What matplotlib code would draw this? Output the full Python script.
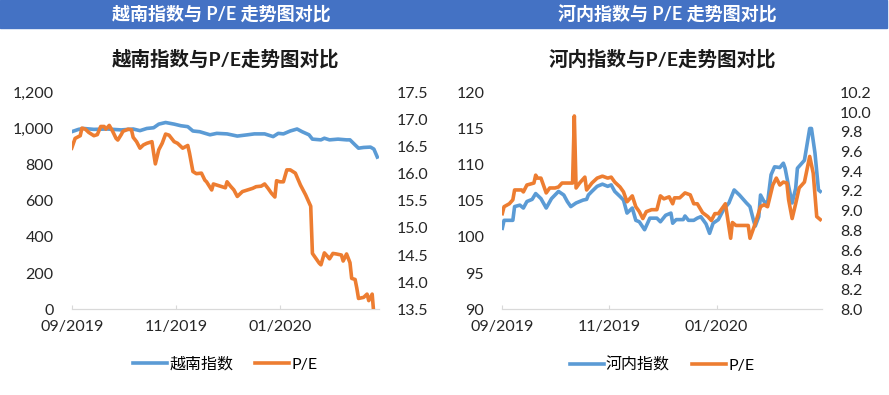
import matplotlib

matplotlib.use("Agg")
import matplotlib.pyplot as plt
import matplotlib.dates as mdates
import matplotlib.ticker as mticker
import pandas as pd

plt.rcParams["font.family"] = ["Lato", "Noto Sans CJK SC", "DejaVu Sans"]

# ---- 越南指数 (left panel) ----
vn_dates = ["2019-09-01", "2019-09-05", "2019-09-08", "2019-09-14", "2019-09-22", "2019-09-30",
            "2019-10-07", "2019-10-11", "2019-10-15", "2019-10-19", "2019-10-22", "2019-10-26",
            "2019-10-31", "2019-11-04", "2019-11-08", "2019-11-11", "2019-11-15", "2019-11-21",
            "2019-11-25", "2019-12-01", "2019-12-07", "2019-12-13", "2019-12-17", "2019-12-23",
            "2019-12-28", "2019-12-31", "2020-01-03", "2020-01-07", "2020-01-11", "2020-01-14",
            "2020-01-18", "2020-01-20", "2020-01-25", "2020-01-27", "2020-01-30", "2020-02-04",
            "2020-02-09", "2020-02-11", "2020-02-14", "2020-02-16", "2020-02-19", "2020-02-23",
            "2020-02-25", "2020-02-27"]
vn_index = [982, 995, 1000, 995, 997, 992,
            997, 988, 1000, 1004, 1024, 1033,
            1024, 1015, 1010, 986, 982, 965,
            973, 970, 958, 965, 970, 970,
            955, 973, 970, 986, 997, 982,
            965, 941, 937, 946, 937, 941,
            937, 937, 909, 891, 895, 897,
            886, 842]

vn_pe_dates = ["2019-09-01", "2019-09-03", "2019-09-06", "2019-09-07", "2019-09-09", "2019-09-11",
               "2019-09-14", "2019-09-16", "2019-09-18", "2019-09-20", "2019-09-21", "2019-09-23",
               "2019-09-25", "2019-09-27", "2019-09-28", "2019-09-30", "2019-10-01", "2019-10-04",
               "2019-10-06", "2019-10-07", "2019-10-09", "2019-10-11", "2019-10-13", "2019-10-15",
               "2019-10-18", "2019-10-19", "2019-10-20", "2019-10-22", "2019-10-24", "2019-10-26",
               "2019-10-28", "2019-10-31", "2019-11-02", "2019-11-05", "2019-11-08", "2019-11-09",
               "2019-11-11", "2019-11-13", "2019-11-16", "2019-11-18", "2019-11-19", "2019-11-22",
               "2019-11-23", "2019-11-25", "2019-11-28", "2019-11-30", "2019-12-01", "2019-12-03",
               "2019-12-05", "2019-12-07", "2019-12-10", "2019-12-13", "2019-12-16", "2019-12-18",
               "2019-12-21", "2019-12-23", "2019-12-25", "2019-12-27", "2019-12-29", "2019-12-30",
               "2020-01-01", "2020-01-03", "2020-01-05", "2020-01-07", "2020-01-10", "2020-01-13",
               "2020-01-16", "2020-01-19", "2020-01-20", "2020-01-22", "2020-01-24", "2020-01-25",
               "2020-01-27", "2020-01-29", "2020-01-30", "2020-02-01", "2020-02-03", "2020-02-06",
               "2020-02-07", "2020-02-09", "2020-02-11", "2020-02-12", "2020-02-14", "2020-02-15",
               "2020-02-16", "2020-02-19", "2020-02-21", "2020-02-22", "2020-02-24", "2020-02-25"]
vn_pe = [16.47, 16.65, 16.70, 16.84, 16.82, 16.76,
         16.70, 16.72, 16.87, 16.87, 16.82, 16.89,
         16.78, 16.65, 16.62, 16.72, 16.78, 16.82,
         16.81, 16.67, 16.59, 16.47, 16.53, 16.56,
         16.59, 16.38, 16.18, 16.44, 16.56, 16.73,
         16.71, 16.59, 16.56, 16.47, 16.52, 16.38,
         16.04, 16.00, 16.01, 15.88, 15.85, 15.70,
         15.81, 15.79, 15.76, 15.74, 15.85, 15.77,
         15.70, 15.58, 15.67, 15.70, 15.73, 15.76,
         15.77, 15.81, 15.73, 15.64, 15.57, 15.87,
         15.85, 15.85, 16.07, 16.07, 16.01, 15.79,
         15.61, 15.40, 14.53, 14.44, 14.35, 14.32,
         14.54, 14.47, 14.43, 14.53, 14.52, 14.50,
         14.39, 14.52, 14.36, 14.07, 14.05, 13.89,
         13.70, 13.72, 13.78, 13.66, 13.78, 13.40]

# ---- 河内指数 (right panel) ----
hn_dates = ["2019-09-01", "2019-09-02", "2019-09-07", "2019-09-08", "2019-09-11", "2019-09-13",
            "2019-09-15", "2019-09-18", "2019-09-20", "2019-09-23", "2019-09-26", "2019-09-29",
            "2019-10-03", "2019-10-06", "2019-10-08", "2019-10-10", "2019-10-13", "2019-10-15",
            "2019-10-17", "2019-10-19", "2019-10-20", "2019-10-22", "2019-10-25", "2019-10-28",
            "2019-10-31", "2019-11-02", "2019-11-04", "2019-11-07", "2019-11-09", "2019-11-11",
            "2019-11-14", "2019-11-16", "2019-11-18", "2019-11-21", "2019-11-24", "2019-11-28",
            "2019-11-30", "2019-12-03", "2019-12-06", "2019-12-07", "2019-12-09", "2019-12-13",
            "2019-12-14", "2019-12-16", "2019-12-19", "2019-12-21", "2019-12-23", "2019-12-26",
            "2019-12-28", "2019-12-30", "2020-01-02", "2020-01-05", "2020-01-08", "2020-01-11",
            "2020-01-14", "2020-01-18", "2020-01-20", "2020-01-22", "2020-01-23", "2020-01-25",
            "2020-01-26", "2020-01-28", "2020-01-30", "2020-02-01", "2020-02-03", "2020-02-06",
            "2020-02-08", "2020-02-09", "2020-02-11", "2020-02-13", "2020-02-15", "2020-02-16",
            "2020-02-20", "2020-02-23", "2020-02-24", "2020-02-26", "2020-02-28", "2020-02-29"]
hn_index = [101.2, 102.3, 102.3, 104.2, 104.4, 104.0,
            104.9, 105.2, 106.0, 105.3, 104.0, 105.3,
            106.3, 105.8, 104.9, 104.2, 104.7, 104.9,
            105.1, 105.2, 105.8, 106.3, 107.0, 107.3,
            107.0, 107.2, 106.3, 105.6, 105.1, 103.3,
            104.0, 102.3, 102.1, 101.0, 102.6, 102.6,
            102.1, 103.0, 103.3, 101.9, 102.4, 102.4,
            102.9, 102.3, 102.3, 102.6, 102.8, 101.8,
            100.5, 101.9, 102.4, 103.8, 104.7, 106.5,
            105.8, 104.7, 104.2, 102.3, 101.5, 102.8,
            105.8, 104.9, 104.7, 108.6, 109.7, 109.6,
            110.2, 109.5, 107.0, 104.7, 106.7, 109.5,
            110.6, 115.0, 115.0, 111.6, 106.5, 106.3]

hn_pe_dates = ["2019-09-01", "2019-09-02", "2019-09-05", "2019-09-07", "2019-09-08", "2019-09-12",
               "2019-09-13", "2019-09-15", "2019-09-19", "2019-09-20", "2019-09-21", "2019-09-23",
               "2019-09-26", "2019-09-28", "2019-10-01", "2019-10-03", "2019-10-05", "2019-10-09",
               "2019-10-11", "2019-10-12", "2019-10-13", "2019-10-15", "2019-10-18", "2019-10-19",
               "2019-10-22", "2019-10-25", "2019-10-28", "2019-10-31", "2019-11-02", "2019-11-04",
               "2019-11-07", "2019-11-09", "2019-11-11", "2019-11-14", "2019-11-16", "2019-11-18",
               "2019-11-20", "2019-11-22", "2019-11-25", "2019-11-28", "2019-11-30", "2019-12-02",
               "2019-12-05", "2019-12-07", "2019-12-08", "2019-12-11", "2019-12-14", "2019-12-17",
               "2019-12-19", "2019-12-21", "2019-12-24", "2019-12-27", "2019-12-29", "2019-12-31",
               "2020-01-02", "2020-01-06", "2020-01-09", "2020-01-10", "2020-01-12", "2020-01-19",
               "2020-01-20", "2020-01-23", "2020-01-26", "2020-01-28", "2020-01-30", "2020-02-02",
               "2020-02-04", "2020-02-06", "2020-02-08", "2020-02-10", "2020-02-11", "2020-02-13",
               "2020-02-15", "2020-02-17", "2020-02-20", "2020-02-23", "2020-02-25", "2020-02-27",
               "2020-02-29"]
hn_pe = [8.97, 9.04, 9.07, 9.11, 9.21, 9.21,
         9.19, 9.26, 9.28, 9.36, 9.33, 9.33,
         9.18, 9.23, 9.23, 9.24, 9.28, 9.28,
         9.28, 9.96, 9.23, 9.28, 9.34, 9.21,
         9.28, 9.33, 9.35, 9.33, 9.34, 9.29,
         9.24, 9.19, 9.09, 9.15, 9.04, 8.99,
         8.92, 8.99, 9.01, 9.01, 9.15, 9.12,
         9.14, 9.07, 9.13, 9.13, 9.18, 9.16,
         9.07, 9.07, 8.98, 8.94, 8.90, 8.97,
         8.97, 9.07, 8.72, 8.88, 8.85, 8.85,
         8.72, 8.87, 9.04, 9.06, 9.04, 9.26,
         9.33, 9.26, 9.29, 9.28, 9.11, 8.92,
         9.07, 9.23, 9.29, 9.55, 9.38, 8.94,
         8.91]

BLUE = "#5B9BD5"
ORANGE = "#ED7D31"
HEADER = "#4472C4"
W, H = 889, 395

fig = plt.figure(figsize=(W / 100, H / 100), dpi=100)

# blue header bar across the top
fig.patches.append(plt.Rectangle((0, 1 - 28 / H), 887 / W, 28 / H, transform=fig.transFigure,
                                 color=HEADER, zorder=0))
fig.text(221 / W, 1 - 14 / H, "越南指数与 P/E 走势图对比", color="white", fontsize=13,
         fontweight="bold", ha="center", va="center")
fig.text(667 / W, 1 - 14 / H, "河内指数与 P/E 走势图对比", color="white", fontsize=13,
         fontweight="bold", ha="center", va="center")


def panel(x0, x1, title, name, d_idx, idx, d_pe, pe, ylim, yticks, y2lim, y2ticks, fmt, fmt2):
    ax = fig.add_axes([x0 / W, (H - 309.3) / H, (x1 - x0) / W, 217 / H])
    ax2 = ax.twinx()
    d_idx = pd.to_datetime(d_idx)
    d_pe = pd.to_datetime(d_pe)
    l1, = ax.plot(d_idx, idx, color=BLUE, lw=2.6, label=name, zorder=3)
    l2, = ax2.plot(d_pe, pe, color=ORANGE, lw=2.6, label="P/E", zorder=3)
    ax.set_ylim(*ylim)
    ax.set_yticks(yticks)
    ax2.set_ylim(*y2lim)
    ax2.set_yticks(y2ticks)
    ax.yaxis.set_major_formatter(mticker.FuncFormatter(fmt))
    ax2.yaxis.set_major_formatter(mticker.FuncFormatter(fmt2))
    ax.set_xlim(pd.Timestamp("2019-09-01"), max(d_idx.max(), d_pe.max()) + pd.Timedelta(days=1))
    ax.set_xticks(pd.to_datetime(["2019-09-01", "2019-11-01", "2020-01-01"]))
    ax.xaxis.set_major_formatter(mdates.DateFormatter("%m/%Y"))
    for a in (ax, ax2):
        for s in ("top", "left", "right"):
            a.spines[s].set_visible(False)
        a.spines["bottom"].set_color("#d9d9d9")
        a.tick_params(labelsize=11.5, colors="#262626", length=0)
    ax.tick_params(axis="y", pad=13)
    ax2.tick_params(axis="y", pad=13)
    ax.tick_params(axis="x", pad=8, direction="in", length=3, color="#d9d9d9")
    ax.set_title(title, fontsize=14, fontweight="bold", pad=19, color="#1a1a1a")
    ax.legend([l1, l2], [name, "P/E"], loc="upper center", bbox_to_anchor=(0.5, -0.155),
              ncol=2, frameon=False, fontsize=11.5, handlelength=2.1, columnspacing=1.4,
              handletextpad=0.15)
    return ax


panel(71.7, 379, "越南指数与P/E走势图对比", "越南指数", vn_dates, vn_index, vn_pe_dates, vn_pe,
      (0, 1200), range(0, 1201, 200), (13.5, 17.5), [13.5 + 0.5 * i for i in range(9)],
      lambda v, p: f"{v:,.0f}", lambda v, p: f"{v:.1f}")
panel(502.3, 822, "河内指数与P/E走势图对比", "河内指数", hn_dates, hn_index, hn_pe_dates, hn_pe,
      (90, 120), range(90, 121, 5), (8.0, 10.2), [8.0 + 0.2 * i for i in range(12)],
      lambda v, p: f"{v:.0f}", lambda v, p: f"{v:.1f}")

fig.savefig("out.png", dpi=100)
